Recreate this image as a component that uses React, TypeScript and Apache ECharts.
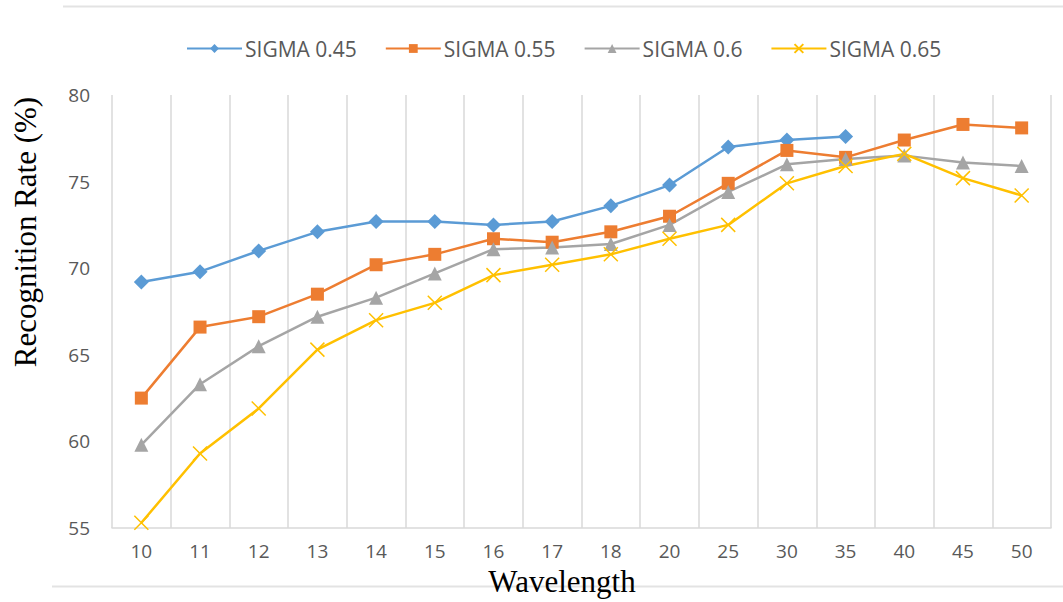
import React, { useEffect, useRef } from "react";
import * as echarts from "echarts";

const categories = ["10", "11", "12", "13", "14", "15", "16", "17", "18", "20", "25", "30", "35", "40", "45", "50"];
const sigma045 = [69.2, 69.8, 71.0, 72.1, 72.7, 72.7, 72.5, 72.7, 73.6, 74.8, 77.0, 77.4, 77.6, null, null, null];
const sigma055 = [62.5, 66.6, 67.2, 68.5, 70.2, 70.8, 71.7, 71.5, 72.1, 73.0, 74.9, 76.8, 76.4, 77.4, 78.3, 78.1];
const sigma06 = [59.8, 63.3, 65.5, 67.2, 68.3, 69.7, 71.1, 71.2, 71.4, 72.5, 74.4, 76.0, 76.3, 76.5, 76.1, 75.9];
const sigma065 = [55.3, 59.3, 61.9, 65.3, 67.0, 68.0, 69.6, 70.2, 70.8, 71.7, 72.5, 74.9, 75.9, 76.6, 75.2, 74.2];
const seriesNames = ["SIGMA 0.45", "SIGMA 0.55", "SIGMA 0.6", "SIGMA 0.65"];
const yTicks = { min: 55, max: 80, interval: 5 };

export default function App() {
  const ref = useRef<HTMLDivElement>(null);
  useEffect(() => {
    if (!ref.current) return;
    const chart = echarts.init(ref.current, null, { renderer: "svg" });
    const tickFont = "'Open Sans', 'Liberation Sans', sans-serif";
    const mk = (name: string, data: (number | null)[], color: string, symbol: string, size: number, extra: any = {}) => ({
      name,
      type: "line",
      data,
      symbol,
      symbolSize: size,
      connectNulls: false,
      lineStyle: { color, width: 2.5 },
      itemStyle: { color, ...extra },
      z: 2,
    });
    chart.setOption({
      animation: false,
      backgroundColor: "#ffffff",
      grid: { left: 112, right: 12, top: 95, bottom: 74, containLabel: false },
      legend: {
        left: 181,
        top: 33,
        itemWidth: 55,
        itemHeight: 11,
        itemGap: 28,
        textStyle: { color: "#595959", fontSize: 21, fontFamily: tickFont, padding: [0, 0, 0, -2] },
        data: seriesNames,
      },
      xAxis: {
        type: "category",
        data: categories,
        boundaryGap: true,
        axisLine: { show: true, lineStyle: { color: "#d9d9d9", width: 1.5 } },
        axisTick: { show: false },
        splitLine: { show: true, lineStyle: { color: "#d9d9d9", width: 1.5 } },
        axisLabel: { color: "#595959", fontSize: 19, fontFamily: tickFont, margin: 13 },
      },
      yAxis: {
        type: "value",
        min: yTicks.min,
        max: yTicks.max,
        interval: yTicks.interval,
        axisLine: { show: false },
        axisTick: { show: false },
        splitLine: { show: false },
        axisLabel: { color: "#595959", fontSize: 19, fontFamily: tickFont, margin: 22 },
      },
      series: [
        mk(seriesNames[0], sigma045, "#5B9BD5", "diamond", 15),
        mk(seriesNames[1], sigma055, "#ED7D31", "rect", 13),
        mk(seriesNames[2], sigma06, "#A5A5A5", "triangle", 14),
        mk(seriesNames[3], sigma065, "#FFC000", "path://M0,0L10,10M10,0L0,10", 14, {
          borderColor: "#FFC000",
          borderWidth: 1.5,
        }),
      ],
      graphic: [
        { type: "line", shape: { x1: 63, y1: 6.5, x2: 1063, y2: 6.5 }, style: { stroke: "#e3e3e3", lineWidth: 2 } },
        { type: "line", shape: { x1: 52, y1: 586.5, x2: 1063, y2: 586.5 }, style: { stroke: "#e3e3e3", lineWidth: 2 } },
        {
          type: "text",
          x: 25,
          y: 232,
          rotation: Math.PI / 2,
          style: {
            text: "Recognition Rate (%)",
            font: "31px 'Liberation Serif', 'Times New Roman', serif",
            fill: "#000",
            align: "center",
            verticalAlign: "middle",
          },
        },
        {
          type: "text",
          x: 562,
          y: 581,
          style: {
            text: "Wavelength",
            font: "31px 'Liberation Serif', 'Times New Roman', serif",
            fill: "#000",
            align: "center",
            verticalAlign: "middle",
          },
        },
      ],
    });
    return () => chart.dispose();
  }, []);
  return <div ref={ref} style={{ position: "fixed", left: 0, top: 0, width: 1063, height: 602 }} />;
}
